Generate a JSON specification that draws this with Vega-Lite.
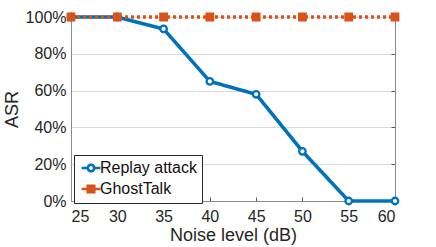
{
  "$schema": "https://vega.github.io/schema/vega-lite/v6.json",
  "width": 324,
  "height": 184,
  "autosize": {"type": "none"},
  "padding": {"left": 71, "top": 17, "right": 41, "bottom": 46},
  "background": "white",
  "config": {
    "font": "Liberation Sans",
    "view": {"stroke": "#8a8a8a", "strokeWidth": 1},
    "axis": {"labelFont": "Liberation Sans", "titleFont": "Liberation Sans", "labelFontSize": 16, "titleFontSize": 18, "titleFontWeight": "normal", "labelColor": "#262626", "titleColor": "#262626", "domainColor": "#8a8a8a", "tickColor": "#555555"}
  },
  "datasets": {
    "main": [
      {"x": 25, "y": 1.0, "series": "Replay attack"},
      {"x": 30, "y": 1.0, "series": "Replay attack"},
      {"x": 35, "y": 0.935, "series": "Replay attack"},
      {"x": 40, "y": 0.65, "series": "Replay attack"},
      {"x": 45, "y": 0.58, "series": "Replay attack"},
      {"x": 50, "y": 0.27, "series": "Replay attack"},
      {"x": 55, "y": 0.0, "series": "Replay attack"},
      {"x": 60, "y": 0.0, "series": "Replay attack"},
      {"x": 25, "y": 1.0, "series": "GhostTalk"},
      {"x": 30, "y": 1.0, "series": "GhostTalk"},
      {"x": 35, "y": 1.0, "series": "GhostTalk"},
      {"x": 40, "y": 1.0, "series": "GhostTalk"},
      {"x": 45, "y": 1.0, "series": "GhostTalk"},
      {"x": 50, "y": 1.0, "series": "GhostTalk"},
      {"x": 55, "y": 1.0, "series": "GhostTalk"},
      {"x": 60, "y": 1.0, "series": "GhostTalk"}
    ]
  },
  "data": {"name": "main"},
  "encoding": {
    "x": {"field": "x", "type": "quantitative", "scale": {"domain": [25, 60], "nice": false, "zero": false},
      "axis": {"values": [25, 30, 35, 40, 45, 50, 55, 60], "grid": false, "tickSize": -4, "labelPadding": 11, "title": "Noise level (dB)", "titlePadding": 2}}
  },
  "layer": [
    {
      "mark": {"type": "line", "strokeWidth": 3.6},
      "encoding": {
        "y": {"field": "y", "type": "quantitative", "scale": {"domain": [0, 1], "nice": false},
          "axis": {"values": [0, 0.2, 0.4, 0.6, 0.8, 1.0], "format": ".0%", "grid": true, "gridColor": "#dadada", "tickSize": 0, "labelPadding": 5, "title": "ASR", "titlePadding": 4}},
        "color": {"field": "series", "type": "nominal", "scale": {"domain": ["Replay attack", "GhostTalk"], "range": ["#0072BD", "#D95319"]}, "legend": null},
        "strokeDash": {"field": "series", "type": "nominal", "scale": {"domain": ["Replay attack", "GhostTalk"], "range": [[1, 0], [3, 3]]}, "legend": null}
      }
    },
    {
      "mark": {"type": "point", "size": 42, "strokeWidth": 2.3, "opacity": 1, "filled": false},
      "encoding": {
        "y": {"field": "y", "type": "quantitative", "scale": {"domain": [0, 1], "nice": false},
          "axis": {"orient": "right", "values": [0, 0.2, 0.4, 0.6, 0.8, 1.0], "labels": false, "grid": false, "domain": false, "tickSize": -4, "title": null}},
        "stroke": {"field": "series", "type": "nominal", "scale": {"domain": ["Replay attack", "GhostTalk"], "range": ["#0072BD", "#D95319"]}, "legend": null},
        "fill": {"field": "series", "type": "nominal", "scale": {"domain": ["Replay attack", "GhostTalk"], "range": ["white", "#D95319"]}, "legend": null},
        "shape": {"field": "series", "type": "nominal", "scale": {"domain": ["Replay attack", "GhostTalk"], "range": ["circle", "square"]}, "legend": null}
      }
    },
    {
      "transform": [{"filter": "datum.x < 0"}],
      "mark": {"type": "point", "size": 42, "strokeWidth": 2.5, "opacity": 1, "filled": false},
      "encoding": {
        "y": {"field": "y", "type": "quantitative", "scale": {"domain": [0, 1], "nice": false}, "axis": null},
        "stroke": {"field": "series", "type": "nominal", "scale": {"domain": ["Replay attack", "GhostTalk"], "range": ["#0072BD", "#D95319"]}},
        "fill": {"field": "series", "type": "nominal", "scale": {"domain": ["Replay attack", "GhostTalk"], "range": ["white", "#D95319"]}},
        "shape": {"field": "series", "type": "nominal", "scale": {"domain": ["Replay attack", "GhostTalk"], "range": ["M-2.9,0H-1M1,0H2.9M-1,0A1,1,0,1,0,1,0A1,1,0,1,0,-1,0Z", "M-2.9,0H-1M1,0H2.9M-1,-1H1V1H-1Z"]},
          "legend": {"orient": "none", "legendX": 3, "legendY": 138, "title": null, "direction": "vertical",
            "strokeColor": "#262626", "fillColor": "white", "padding": 5, "cornerRadius": 0,
            "labelFont": "Liberation Sans", "labelFontSize": 16, "labelColor": "#111111", "labelOffset": 1, "symbolOffset": 4, "rowPadding": 3, "symbolStrokeWidth": 2.6, "symbolSize": 42, "symbolOpacity": 1}}
      }
    }
  ],
  "resolve": {"scale": {"stroke": "independent", "fill": "independent", "shape": "independent"}, "axis": {"y": "independent"}, "legend": {"stroke": "independent", "fill": "independent", "shape": "independent"}}
}
